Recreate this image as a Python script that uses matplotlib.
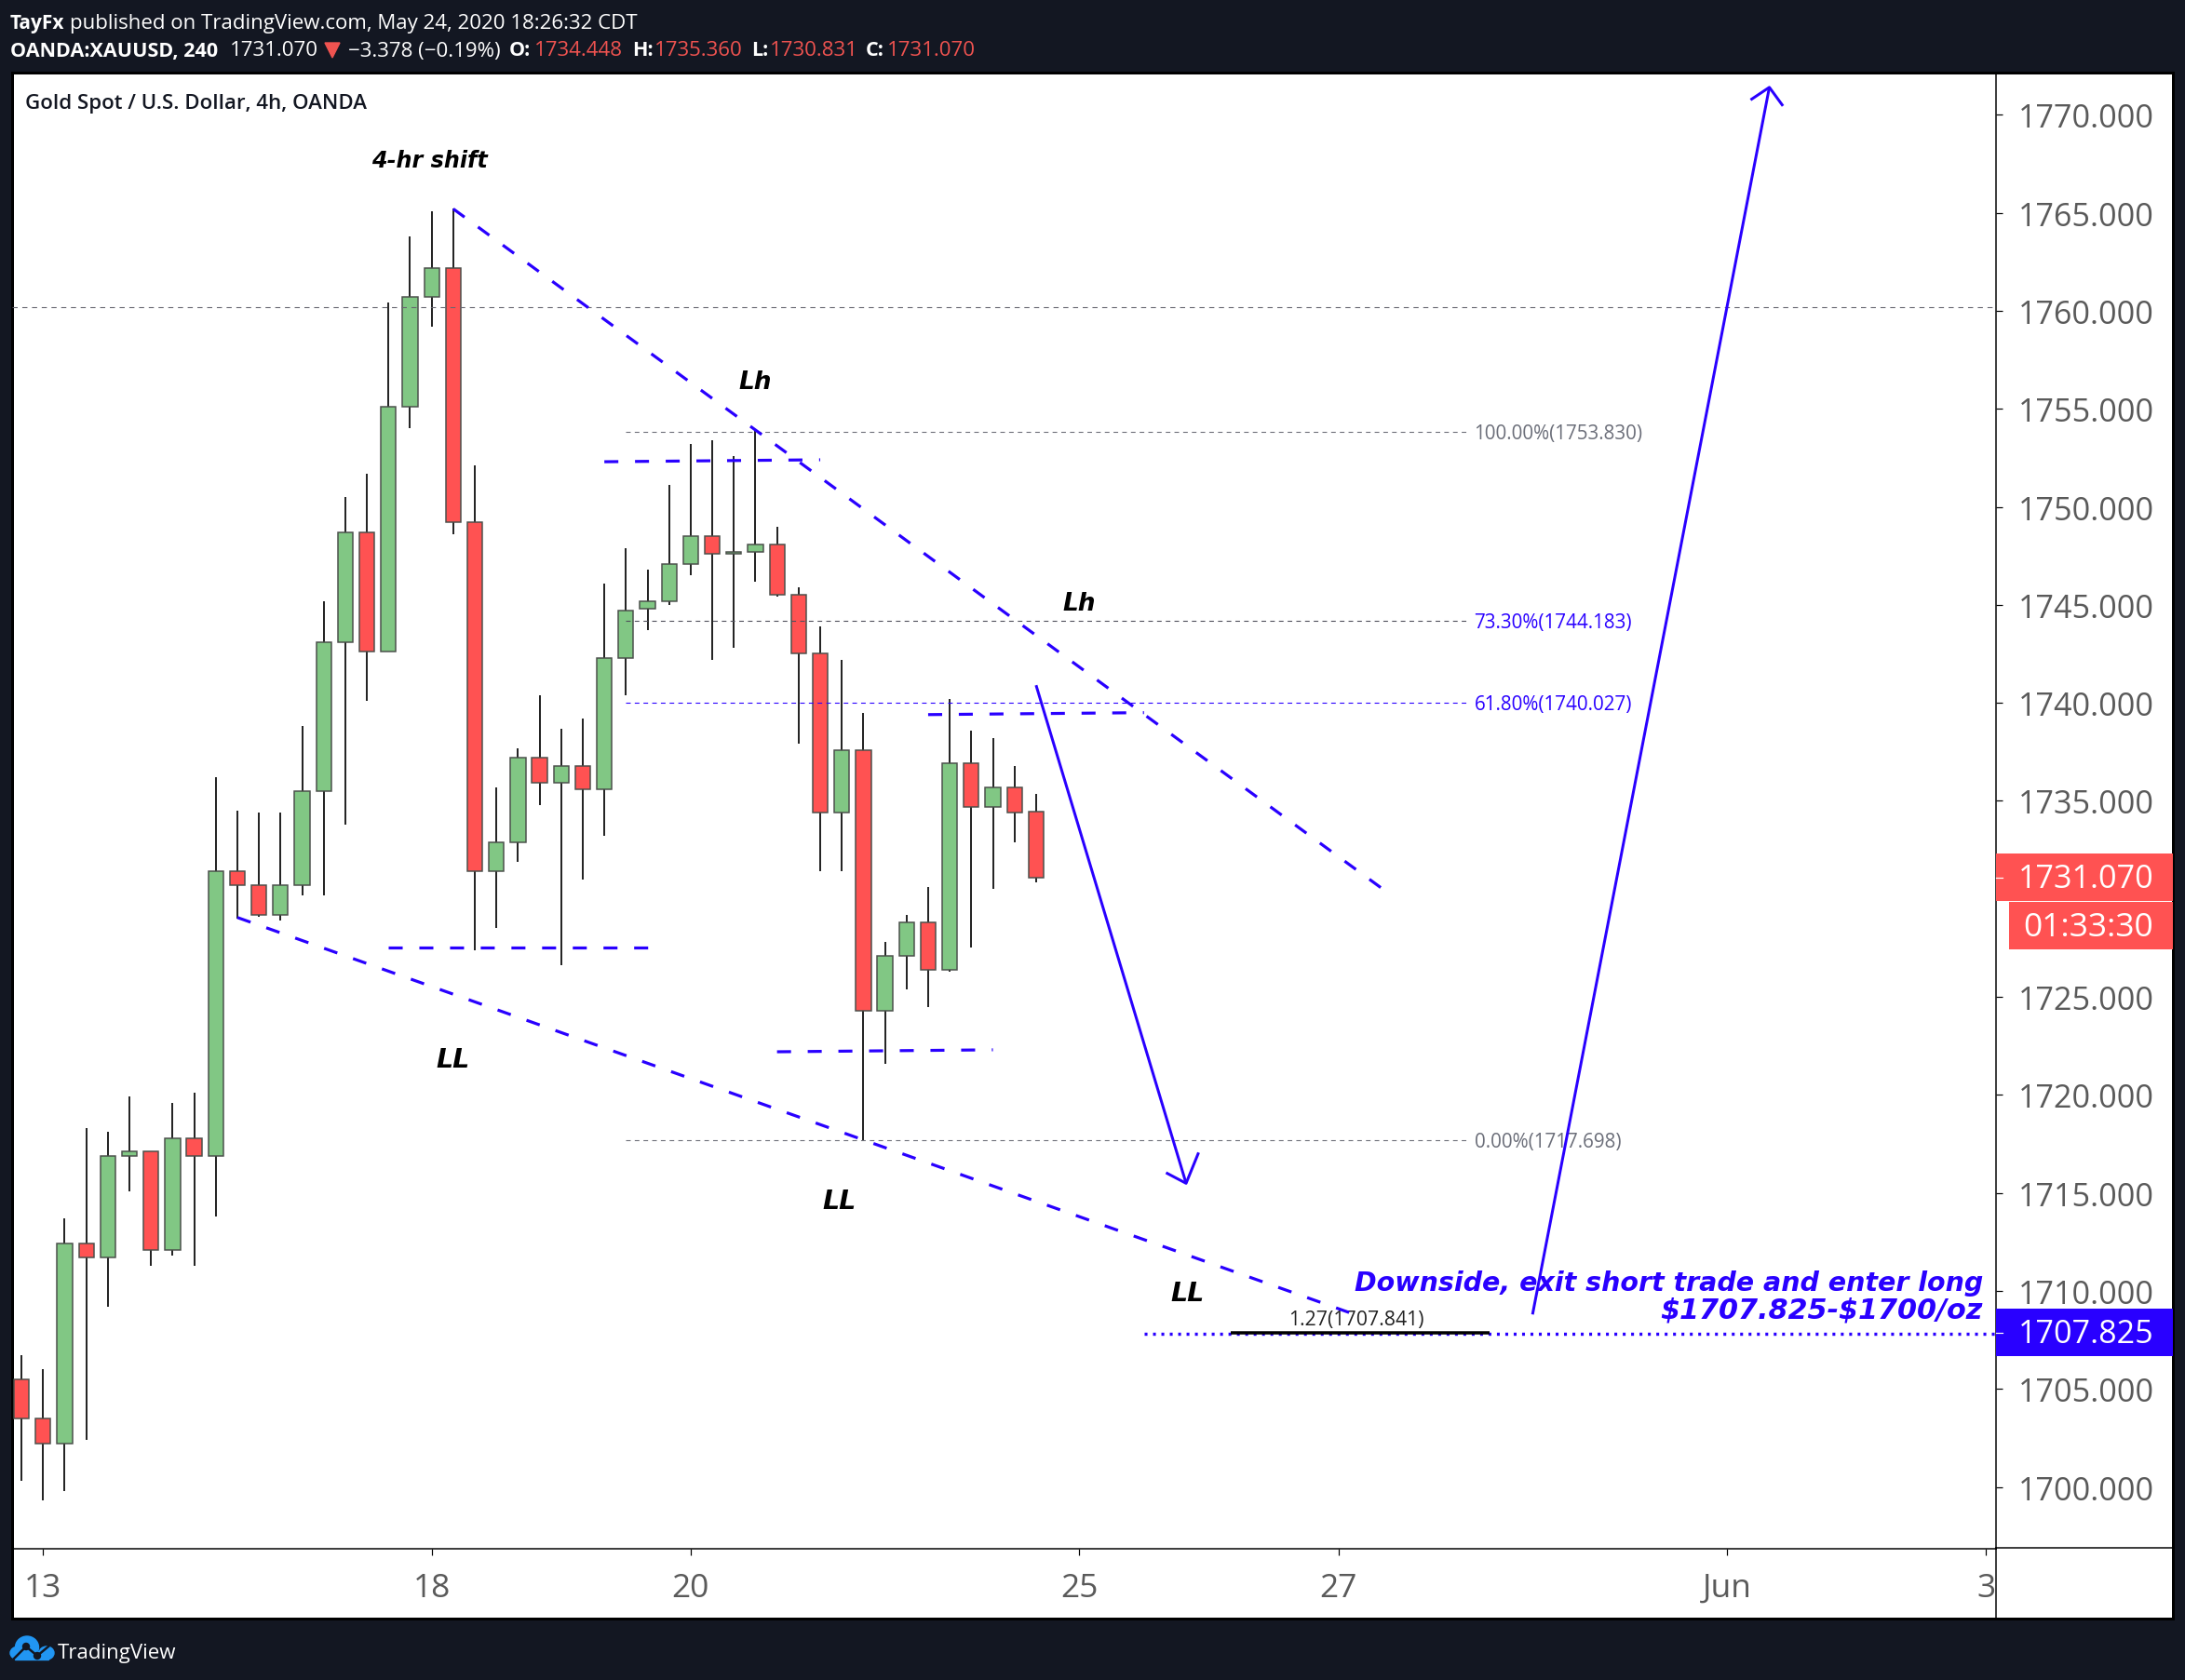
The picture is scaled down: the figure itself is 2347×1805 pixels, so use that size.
import matplotlib
matplotlib.use('Agg')
import matplotlib.pyplot as plt
from matplotlib.patches import Rectangle, Polygon, Circle, Ellipse

# OHLC, one candle each 4h
opens = [1705.5, 1703.5, 1702.2, 1712.4, 1711.7, 1716.9, 1717.1, 1712.1, 1717.8, 1716.9,
         1731.4, 1730.7, 1729.2, 1730.7, 1735.5, 1743.1, 1748.7, 1742.6, 1755.1, 1760.7,
         1762.2, 1749.2, 1731.4, 1732.9, 1737.2, 1735.9, 1736.8, 1735.6, 1742.3, 1744.8,
         1745.2, 1747.1, 1748.5, 1747.6, 1747.7, 1748.1, 1745.5, 1742.5, 1734.4, 1737.6,
         1724.3, 1727.1, 1728.8, 1726.4, 1736.9, 1734.7, 1735.7, 1734.448]
highs = [1706.7, 1706.0, 1713.7, 1718.3, 1718.1, 1719.9, 1717.1, 1719.6, 1720.1, 1736.2,
         1734.5, 1734.4, 1734.4, 1738.8, 1745.2, 1750.5, 1751.7, 1760.4, 1763.8, 1765.1,
         1765.2, 1752.1, 1735.7, 1737.7, 1740.4, 1738.7, 1739.2, 1746.1, 1747.9, 1746.8,
         1751.1, 1753.2, 1753.4, 1752.6, 1753.9, 1749.0, 1745.9, 1743.9, 1742.2, 1739.5,
         1727.8, 1729.2, 1730.6, 1740.2, 1738.6, 1738.2, 1736.8, 1735.36]
lows = [1700.3, 1699.3, 1699.8, 1702.4, 1709.2, 1715.1, 1711.3, 1711.8, 1711.3, 1713.8,
        1729.0, 1729.1, 1728.9, 1730.2, 1730.2, 1733.8, 1740.1, 1742.6, 1754.0, 1759.2,
        1748.6, 1727.4, 1728.5, 1731.9, 1734.8, 1726.6, 1731.0, 1733.2, 1740.4, 1743.7,
        1745.0, 1746.5, 1742.2, 1742.8, 1746.2, 1745.4, 1737.9, 1731.4, 1731.4, 1717.7,
        1721.6, 1725.4, 1724.5, 1726.3, 1727.5, 1730.5, 1732.9, 1730.831]
closes = [1703.5, 1702.2, 1712.4, 1711.7, 1716.9, 1717.1, 1712.1, 1717.8, 1716.9, 1731.4,
          1730.7, 1729.2, 1730.7, 1735.5, 1743.1, 1748.7, 1742.6, 1755.1, 1760.7, 1762.2,
          1749.2, 1731.4, 1732.9, 1737.2, 1735.9, 1736.8, 1735.6, 1742.3, 1744.7, 1745.2,
          1747.1, 1748.5, 1747.6, 1747.7, 1748.1, 1745.5, 1742.5, 1734.4, 1737.6, 1724.3,
          1727.1, 1728.8, 1726.4, 1736.9, 1734.7, 1735.7, 1734.4, 1731.07]

price_ticks = list(range(1700, 1775, 5))
date_pos = [1, 19, 31, 49, 61, 79, 91]
date_labels = ['13', '18', '20', '25', '27', 'Jun', '3']

# fib levels: price, label, line colour, text colour
fib_prices = [1753.83, 1744.183, 1740.027, 1717.698]
fib_labels = ['100.00%(1753.830)', '73.30%(1744.183)', '61.80%(1740.027)', '0.00%(1717.698)']
fib_colors = ['#6e7079', '#50505c', '#2900ff', '#6e7079']
fib_text = ['#6b6e79', '#2900ff', '#2900ff', '#6b6e79']
fib_start = 28
fib_end = 67

# drawings, (candle index, price)
trend_up = [(20, 1765.2), (63, 1730.55)]
trend_low = [(10, 1729.05), (61.5, 1708.9)]
flat_lines = [[(17, 1727.5), (29, 1727.5)],
              [(27, 1752.3), (37, 1752.4)],
              [(35, 1722.2), (45, 1722.3)],
              [(42, 1739.4), (52, 1739.5)]]
arrow_down = [(47, 1740.9), (53.95, 1715.49)]
arrow_down_head = [(53.02, 1716.03), (53.95, 1715.49), (54.53, 1717.06)]
arrow_up = [(70, 1708.8), (80.97, 1771.4)]
arrow_up_head = [(80.1, 1770.76), (80.97, 1771.4), (81.6, 1770.45)]
notes = [('4-hr shift', 18.9, 1767.7, 17.2), ('Lh', 34, 1756.4, 19), ('Lh', 49, 1745.1, 19),
         ('LL', 20, 1721.8, 20.5), ('LL', 37.9, 1714.6, 20.5), ('LL', 54, 1709.9, 20.5)]

W, H = 2347, 1806
PX = 0.72  # one pixel in points at dpi 100
BG = '#131722'
BLUE = '#2900ff'
RED = '#ff5252'
GREEN = '#81c784'
RED_TXT = '#ef5350'
GREY = '#5a5a5a'
HEAD = 16

plt.rcParams['font.family'] = ['Open Sans', 'DejaVu Sans']

fig = plt.figure(figsize=(W / 100, H / 100), dpi=100, facecolor=BG)

# pixel layer under the chart
ov = fig.add_axes([0, 0, 1, 1], zorder=0)
ov.set_xlim(0, W)
ov.set_ylim(H, 0)
ov.axis('off')
ov.add_patch(Rectangle((13, 79), 2321, 1661, facecolor='white', edgecolor='black', lw=3 * PX))
ov.plot([2144, 2144], [1664, 1740], color='black', lw=1.5 * PX)
ov.plot([2144, 2334], [1664.5, 1664.5], color='black', lw=1.5 * PX)

# header
ov.text(11, 25, 'TayFx', color='white', fontsize=15, fontweight='bold', va='center')
ov.text(75, 25, 'published on TradingView.com, May 24, 2020 18:26:32 CDT', color='white',
        fontsize=HEAD, va='center')
ov.text(11, 55, 'OANDA:XAUUSD, 240', color='white', fontsize=15.5, fontweight='bold', va='center')
ov.text(247, 55, '1731.070', color='white', fontsize=HEAD, va='center')
ov.add_patch(Polygon([(349, 47), (365, 47), (357, 63)], color=RED_TXT))
ov.text(374, 55, '\u22123.378 (\u22120.19%)', color='white', fontsize=HEAD, va='center')
for name, x1, val, x2 in [('O:', 547, '1734.448', 574), ('H:', 679, '1735.360', 703),
                          ('L:', 807, '1730.831', 827), ('C:', 930, '1731.070', 953)]:
    ov.text(x1, 55, name, color='white', fontsize=15.5, fontweight='bold', va='center')
    ov.text(x2, 55, val, color=RED_TXT, fontsize=HEAD, va='center')
ov.text(27, 112, 'Gold Spot / U.S. Dollar, 4h, OANDA', color='#131722', fontsize=HEAD,
        fontweight='semibold', va='center')

# logo
logo = '#2196f3'
ov.add_patch(Ellipse((29, 1771), 25, 24, color=logo))
ov.add_patch(Ellipse((20, 1777), 18, 14, color=logo))
ov.add_patch(Ellipse((50, 1777), 16, 14, color=logo))
ov.add_patch(Rectangle((16, 1775), 36, 9, color=logo))
ov.plot([14, 28, 40, 52], [1784, 1770, 1780, 1770], color=BG, lw=2.5 * PX)
ov.add_patch(Circle((28, 1770), 3.5, color=BG))
ov.add_patch(Circle((40, 1780), 3.5, color=BG))
ov.text(62, 1777, 'TradingView', color='white', fontsize=16, va='center')

# chart
ax = fig.add_axes([13 / W, 1 - 1664.5 / H, (2144 - 13) / W, (1664.5 - 80.5) / H], zorder=1)
ax.patch.set_alpha(0)
ax.set_xlim(-0.436, 91.47)
ax.set_ylim(1696.87, 1772.08)
for side in ['left', 'top']:
    ax.spines[side].set_visible(False)
for side in ['right', 'bottom']:
    ax.spines[side].set_linewidth(1.5 * PX)

ax.yaxis.tick_right()
ax.set_yticks(price_ticks)
# 1730 sits under the last price tag
ax.set_yticklabels(['' if p == 1730 else '%.3f' % p for p in price_ticks])
ax.set_xticks(date_pos)
ax.set_xticklabels(date_labels)
ax.tick_params(axis='y', length=7 * PX, width=1.2 * PX, pad=17 * PX, labelsize=24.6, labelcolor=GREY)
ax.tick_params(axis='x', length=7 * PX, width=1.2 * PX, pad=18 * PX, labelsize=25.5, labelcolor=GREY)

# candles
xs = list(range(len(opens)))
ax.vlines(xs, lows, highs, color='black', lw=1.7 * PX, zorder=2)
for x, o, c in zip(xs, opens, closes):
    color = GREEN if c >= o else RED
    ax.bar(x, abs(c - o), bottom=min(o, c), width=0.7, color=color, edgecolor='#4a4f4a',
           linewidth=1.5 * PX, zorder=3)

# horizontal and fib lines
ax.axhline(1760.2, color='#666670', lw=1.1 * PX, dashes=(5, 4.5), zorder=4)
for p, lab, lc, tc in zip(fib_prices, fib_labels, fib_colors, fib_text):
    ax.plot([fib_start, fib_end], [p, p], color=lc, lw=1.1 * PX, dashes=(4.5, 4), zorder=4)
    ax.text(fib_end + 0.3, p - 0.07, lab, color=tc, fontsize=14.9, va='center')

# trend lines
dash = dict(color=BLUE, lw=3.2 * PX, dashes=(4.7, 5.6), dash_capstyle='butt', zorder=5)
for seg in [trend_up, trend_low] + flat_lines:
    ax.plot(*zip(*seg), **dash)

# arrows
for seg in [arrow_down, arrow_down_head, arrow_up, arrow_up_head]:
    ax.plot(*zip(*seg), color=BLUE, lw=3 * PX, solid_capstyle='butt', zorder=5)

# target level
ax.plot([52, 91.47], [1707.825, 1707.825], color=BLUE, lw=3.4 * PX, dashes=(0.9, 1.75),
        dash_capstyle='butt', zorder=5)
ax.plot([56, 68], [1707.841, 1707.841], color='black', lw=3.5 * PX, solid_capstyle='butt', zorder=6)
ax.text(61.85, 1708.05, '1.27(1707.841)', color='#222222', fontsize=15.3, ha='center', va='bottom')

for txt, x, y, size in notes:
    ax.text(x, y, txt, color='black', fontsize=size, fontweight='bold', style='italic',
            family='DejaVu Sans', ha='center', va='center', zorder=7)

# tags above the axis labels
top = fig.add_axes([0, 0, 1, 1], zorder=3)
top.set_xlim(0, W)
top.set_ylim(H, 0)
top.axis('off')
top.text(2130, 1379, 'Downside, exit short trade and enter long', color=BLUE, fontsize=20.5,
         fontweight='bold', style='italic', family='DejaVu Sans', ha='right', va='center')
top.text(2130, 1408, '$1707.825-$1700/oz', color=BLUE, fontsize=21.8, fontweight='bold',
         style='italic', family='DejaVu Sans', ha='right', va='center', parse_math=False)
top.add_patch(Rectangle((2144, 918), 190, 51, color=RED, lw=0))
top.add_patch(Rectangle((2158, 970), 176, 51, color=RED, lw=0))
top.add_patch(Rectangle((2144, 1407), 190, 51, color=BLUE, lw=0))
top.plot([2144, 2151], [943.5, 943.5], color='white', lw=1.2 * PX)
top.plot([2144, 2151], [1432.5, 1432.5], color='white', lw=1.2 * PX)
top.text(2241, 945, '1731.070', color='white', fontsize=24.6, ha='center', va='center')
top.text(2243, 997, '01:33:30', color='white', fontsize=25.5, ha='center', va='center')
top.text(2241, 1434, '1707.825', color='white', fontsize=24.6, ha='center', va='center')

fig.savefig('out.png', dpi=100, facecolor=BG)
